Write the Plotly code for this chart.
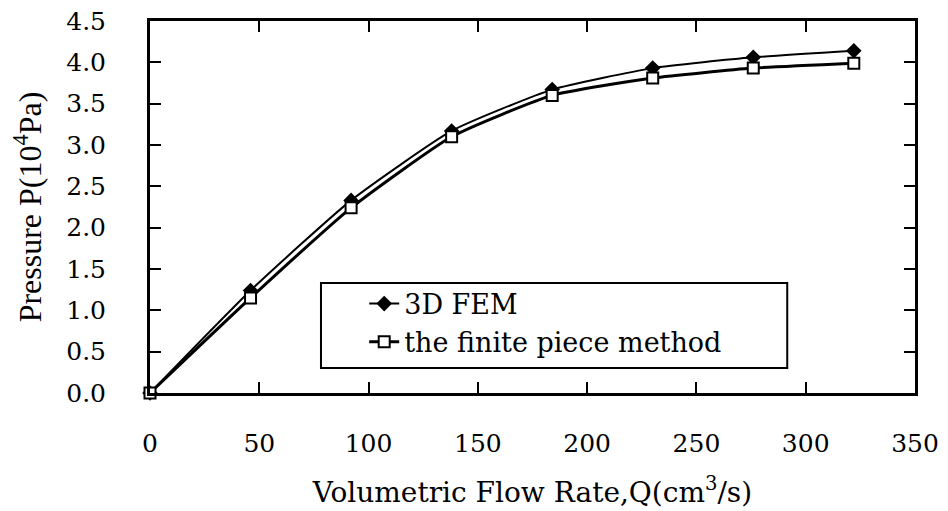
import plotly.graph_objects as go

flow_rate = [0, 46, 92, 138, 184, 230, 276, 322]
fem_pressure = [0.0, 1.24, 2.33, 3.17, 3.67, 3.93, 4.06, 4.14]
fpm_pressure = [0.0, 1.15, 2.24, 3.10, 3.60, 3.81, 3.93, 3.99]
x_ticks = [0, 50, 100, 150, 200, 250, 300, 350]
y_ticks = [0.0, 0.5, 1.0, 1.5, 2.0, 2.5, 3.0, 3.5, 4.0, 4.5]

WIDE = "DejaVu Serif"
NARROW = "Liberation Serif"

fig = go.Figure()
fig.add_trace(go.Scatter(
    x=flow_rate, y=fem_pressure, name="3D FEM",
    mode="lines+markers", line=dict(color="black", width=2, shape="spline", smoothing=0.5),
    marker=dict(symbol="diamond", size=12, color="black"),
))
fig.add_trace(go.Scatter(
    x=flow_rate, y=fpm_pressure, name="the finite piece method",
    mode="lines+markers", line=dict(color="black", width=3, shape="spline", smoothing=0.5),
    marker=dict(symbol="square", size=11, color="white", line=dict(color="black", width=2)),
))

# legend frame
fig.add_shape(type="rect", xref="paper", yref="paper",
              x0=0.2235, x1=0.833, y0=0.067, y1=0.296,
              line=dict(color="black", width=2), fillcolor="white", layer="below")

# page body has an 8px margin, so the figure is 940x503 and offsets are reduced by 8
fig.update_layout(
    width=940, height=503,
    margin=dict(l=142, r=33, t=13, b=118),
    paper_bgcolor="white", plot_bgcolor="white",
    font=dict(family=WIDE, size=24, color="black"),
    showlegend=True,
    legend=dict(
        x=0.28, y=0.305, xanchor="left", yanchor="top",
        borderwidth=0, bgcolor="rgba(0,0,0,0)",
        font=dict(family=WIDE, size=27), tracegroupgap=0, itemwidth=30,
    ),
    xaxis=dict(
        range=[0, 350], tickvals=x_ticks, ticktext=[str(v) for v in x_ticks],
        ticks="inside", ticklen=11, tickwidth=2, tickcolor="black",
        showline=True, linecolor="black", linewidth=3, mirror="ticks",
        showgrid=False, zeroline=False, ticklabelstandoff=26, automargin=False,
        ticklabeloverflow="allow",
        title=dict(text="Volumetric Flow Rate,Q(cm<sup>3</sup>/s)", font=dict(family=WIDE, size=28), standoff=26),
        tickfont=dict(family=WIDE, size=25),
    ),
    yaxis=dict(
        range=[0, 4.5], tickvals=y_ticks, ticktext=[f"{v:.1f}" for v in y_ticks],
        ticks="inside", ticklen=11, tickwidth=2, tickcolor="black",
        showline=True, linecolor="black", linewidth=3, mirror="ticks",
        showgrid=False, zeroline=False, ticklabelstandoff=36, automargin=False,
        ticklabeloverflow="allow",
        title=dict(text="Pressure P(10<sup>4</sup>Pa)", font=dict(family=NARROW, size=32), standoff=20),
        tickfont=dict(family=WIDE, size=25),
    ),
)
fig.update_traces(cliponaxis=False)

fig.write_html("out.html")
